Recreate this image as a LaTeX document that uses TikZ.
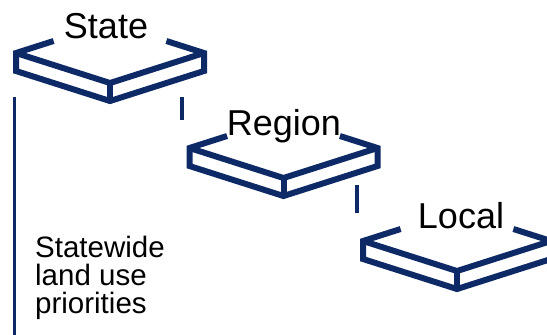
\documentclass[tikz,border=0pt]{standalone}
\usepackage{fontspec}
\setmainfont{Liberation Sans}
\definecolor{navy}{RGB}{14,42,102}
\begin{document}
\begin{tikzpicture}[x=1bp,y=-1bp,
  outline/.style={draw=navy,line width=6bp,line join=miter},
  link/.style={draw=navy,line width=3.5bp},
  title/.style={anchor=base,inner sep=0pt,font=\fontsize{36bp}{40bp}\selectfont},
  caption/.style={anchor=north west,inner sep=0pt,align=left,font=\fontsize{29.5bp}{28bp}\selectfont}]
\useasboundingbox (0,0) rectangle (547,334);
\clip (0,0) rectangle (547,334);
\foreach \cx/\vy/\nm in {110/53/s, 283.5/148/r, 457/241/l}{
  \begin{scope}[shift={(\cx,\vy)}]
    \coordinate (\nm L) at (-94,0);
    \coordinate (\nm R) at (94,0);
    \coordinate (\nm F) at (0,30);
    \coordinate (\nm Lb) at (-94,18);
    \coordinate (\nm Rb) at (94,18);
    \coordinate (\nm Fb) at (0,48);
    \coordinate (\nm GL) at (-56.4,-12);
    \coordinate (\nm GR) at (56.4,-12);
    \draw[outline] (\nm GL) -- (\nm L) -- (\nm Lb) -- (\nm Fb) -- (\nm Rb) -- (\nm R) -- (\nm GR);
    \draw[outline] (\nm L) -- (\nm F) -- (\nm R);
    \draw[outline] (\nm F) -- (\nm Fb);
  \end{scope}
}
\node[title] (state) at (106,38) {State};
\node[title] (region) at (284,135) {Region};
\node[title] (local) at (461,228) {Local};
\node[caption] (cap) at (35,235.5) {Statewide\\land use\\priorities};
\coordinate (v1a) at (14.5,97); \coordinate (v1b) at (14.5,340);
\coordinate (v2a) at (182,97); \coordinate (v2b) at (182,120);
\coordinate (v3a) at (357,185); \coordinate (v3b) at (357,213);
\draw[link] (v1a) -- (v1b);
\draw[link] (v2a) -- (v2b);
\draw[link] (v3a) -- (v3b);
\end{tikzpicture}
\end{document}
